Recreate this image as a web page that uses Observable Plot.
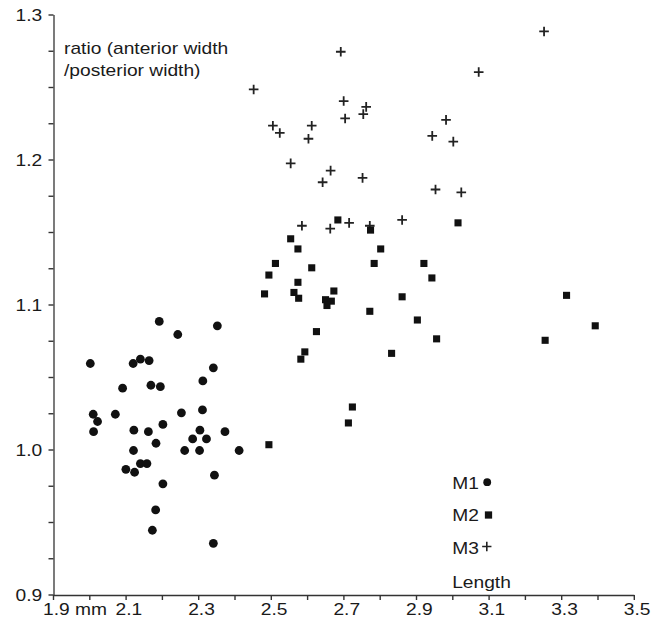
<!DOCTYPE html>
<html>
<head>
<meta charset="utf-8">
<script src="https://cdn.jsdelivr.net/npm/d3@7"></script>
<script src="https://cdn.jsdelivr.net/npm/@observablehq/plot@0.6"></script>
<style>
  html, body { margin: 0; padding: 0; background: #fff; overflow: hidden; }
  #chart { width: 667px; height: 623px; line-height: 0; }
  #chart svg { display: block; }
</style>
</head>
<body>
<div id="chart"></div>
<script>
// Crown length (mm) against anterior/posterior width ratio, per molar position.
const m1Length = [2.000, 2.008, 2.020, 2.009, 2.069, 2.089, 2.098, 2.118, 2.138, 2.162,
                  2.120, 2.119, 2.122, 2.138, 2.156, 2.167, 2.193, 2.160, 2.181, 2.200,
                  2.200, 2.180, 2.171, 2.190, 2.241, 2.251, 2.260, 2.282, 2.302, 2.301,
                  2.320, 2.309, 2.310, 2.339, 2.350, 2.342, 2.339, 2.371, 2.410];
const m1Ratio  = [1.060, 1.025, 1.020, 1.013, 1.025, 1.043, 0.987, 1.060, 1.063, 1.062,
                  1.014, 1.000, 0.985, 0.991, 0.991, 1.045, 1.044, 1.013, 1.005, 1.018,
                  0.977, 0.959, 0.945, 1.089, 1.080, 1.026, 1.000, 1.008, 1.014, 1.000,
                  1.008, 1.028, 1.048, 1.057, 1.086, 0.983, 0.936, 1.013, 1.000];

const m2Length = [2.682, 2.772, 3.013, 2.552, 2.572, 2.800, 2.510, 2.492, 2.610, 2.782,
                  2.919, 2.941, 2.572, 2.480, 2.561, 2.574, 2.671, 2.648, 2.664, 2.652,
                  2.859, 3.312, 2.770, 2.901, 3.391, 2.623, 2.954, 3.253, 2.591, 2.580,
                  2.830, 2.722, 2.711, 2.492];
const m2Ratio  = [1.159, 1.152, 1.157, 1.146, 1.139, 1.139, 1.129, 1.121, 1.126, 1.129,
                  1.129, 1.119, 1.116, 1.108, 1.109, 1.105, 1.110, 1.104, 1.103, 1.100,
                  1.106, 1.107, 1.096, 1.090, 1.086, 1.082, 1.077, 1.076, 1.068, 1.063,
                  1.067, 1.030, 1.019, 1.004];

const m3Length = [3.250, 2.690, 3.070, 2.450, 2.698, 2.760, 2.752, 2.702, 2.503, 2.522,
                  2.610, 2.601, 2.980, 2.942, 3.000, 2.552, 2.662, 2.640, 2.750, 2.951,
                  3.022, 2.583, 2.661, 2.713, 2.770, 2.859];
const m3Ratio  = [1.289, 1.275, 1.261, 1.249, 1.241, 1.237, 1.232, 1.229, 1.224, 1.219,
                  1.224, 1.215, 1.228, 1.217, 1.213, 1.198, 1.193, 1.185, 1.188, 1.180,
                  1.178, 1.155, 1.153, 1.157, 1.155, 1.159];

// Axes and labels
const xDomain = [1.9, 3.5];
const yDomain = [0.9, 1.3];
const xLabelTicks = [1.9, 2.1, 2.3, 2.5, 2.7, 2.9, 3.1, 3.3, 3.5];
const yLabelTicks = [0.9, 1.0, 1.1, 1.2, 1.3];
const xUnit = "mm";
const xTitle = "Length";
const yTitle = "ratio (anterior width\n/posterior width)";
const seriesNames = ["M1", "M2", "M3"];
const seriesSymbols = ["circle", "square", "plus"];

const rows = (name, xs, ys) => xs.map((x, i) => ({series: name, length: x, ratio: ys[i]}));
const m1Rows = rows("M1", m1Length, m1Ratio);
const m2Rows = rows("M2", m2Length, m2Ratio);
const m3Rows = rows("M3", m3Length, m3Ratio);

// tick positions: every 0.1 mm along x, every 0.025 along y
const xMinor = d3.range(19, 36).map((d) => d / 10);
const yMinor = d3.range(0, 17).map((i) => +(0.9 + i * 0.025).toFixed(3));

const W = 667, H = 623;
const margin = {left: 53.5, right: 32.7, top: 15, bottom: 28};

const ink = "#1a1a1a";
const axisInk = "#333";
const tickLength = 5;

// legend layout (offsets from the bottom-left corner of the frame)
const legendTextDx = 398.2;
const legendTextDy = [-111.8, -80.1, -46.8];
const legendSymbolDx = [433.2, 434.5, 432.8];
const legendSymbolDy = [-113.3, -80.5, -49];
const legendSymbolR = [3.9, 4.1, 3.1];

const legendMarks = seriesNames.flatMap((name, i) => [
  Plot.text([name], {
    frameAnchor: "bottom-left", text: (d) => d, textAnchor: "start", lineAnchor: "middle",
    dx: legendTextDx, dy: legendTextDy[i], fill: ink
  }),
  Plot.dot([name], {
    frameAnchor: "bottom-left", symbol: seriesSymbols[i], r: legendSymbolR[i],
    dx: legendSymbolDx[i], dy: legendSymbolDy[i],
    ...(seriesSymbols[i] === "plus" ? {stroke: "#222", strokeWidth: 1.6} : {fill: "#111"})
  })
]);

const chart = Plot.plot({
  width: W,
  height: H,
  marginLeft: margin.left,
  marginRight: margin.right,
  marginTop: margin.top,
  marginBottom: margin.bottom,
  x: {domain: xDomain, label: null},
  y: {domain: yDomain, label: null},
  style: {
    fontFamily: "'Liberation Sans', Arial, Helvetica, sans-serif",
    fontSize: "16px",
    color: "#222",
    background: "#fff",
    overflow: "visible"
  },
  marks: [
    // tick labels
    Plot.axisX({
      ticks: xLabelTicks, tickSize: 0, tickPadding: 8.3, textAnchor: "start", dx: -11,
      tickFormat: (d) => d === xDomain[0] ? `${d.toFixed(1)} ${xUnit}` : d.toFixed(1),
      fill: ink, label: null
    }),
    Plot.axisY({
      ticks: yLabelTicks, tickSize: 0, tickPadding: 11.8, dy: 0.6,
      tickFormat: (d) => d.toFixed(1), fill: ink, label: null
    }),
    // axis lines
    Plot.ruleX([xDomain[0]], {stroke: axisInk, strokeWidth: 1.3}),
    Plot.ruleY([yDomain[0]], {stroke: axisInk, strokeWidth: 1.3}),
    // y title inside the frame
    Plot.text([yTitle], {
      frameAnchor: "top-left", text: (d) => d, textAnchor: "start", lineAnchor: "top",
      dx: 10, dy: 22.6, lineHeight: 1.375, fill: ink
    }),
    // data
    Plot.dot(m3Rows, {x: "length", y: "ratio", symbol: "plus", r: 3.2, stroke: "#222", strokeWidth: 1.8}),
    Plot.dot(m2Rows, {x: "length", y: "ratio", symbol: "square", r: 4.0, fill: "#111"}),
    Plot.dot(m1Rows, {x: "length", y: "ratio", symbol: "circle", r: 4.4, fill: "#111"}),
    // legend and x title
    ...legendMarks,
    Plot.text([xTitle], {
      frameAnchor: "bottom-left", text: (d) => d, textAnchor: "start", lineAnchor: "middle",
      dx: legendTextDx, dy: -12.8, fill: ink
    })
  ]
});

// outward tick stubs along both axes, placed with the chart's own scales
const sx = chart.scale("x");
const sy = chart.scale("y");
const x0 = sx.apply(xDomain[0]);
const y0 = sy.apply(yDomain[0]);
const ticks = d3.select(chart).append("g")
  .attr("stroke", axisInk)
  .attr("stroke-width", 1.4)
  .attr("fill", "none");
ticks.selectAll("line.xt").data(xMinor).join("line")
  .attr("class", "xt")
  .attr("x1", (d) => sx.apply(d)).attr("x2", (d) => sx.apply(d))
  .attr("y1", y0).attr("y2", y0 + tickLength);
ticks.selectAll("line.yt").data(yMinor).join("line")
  .attr("class", "yt")
  .attr("y1", (d) => sy.apply(d)).attr("y2", (d) => sy.apply(d))
  .attr("x1", x0).attr("x2", x0 - tickLength);

// the lettering is set slightly wide
chart.querySelectorAll("text").forEach((t) => {
  const tr = t.getAttribute("transform") || "";
  t.setAttribute("transform", `${tr} scale(1.2,1)`);
});

document.getElementById("chart").append(chart);
</script>
</body>
</html>
